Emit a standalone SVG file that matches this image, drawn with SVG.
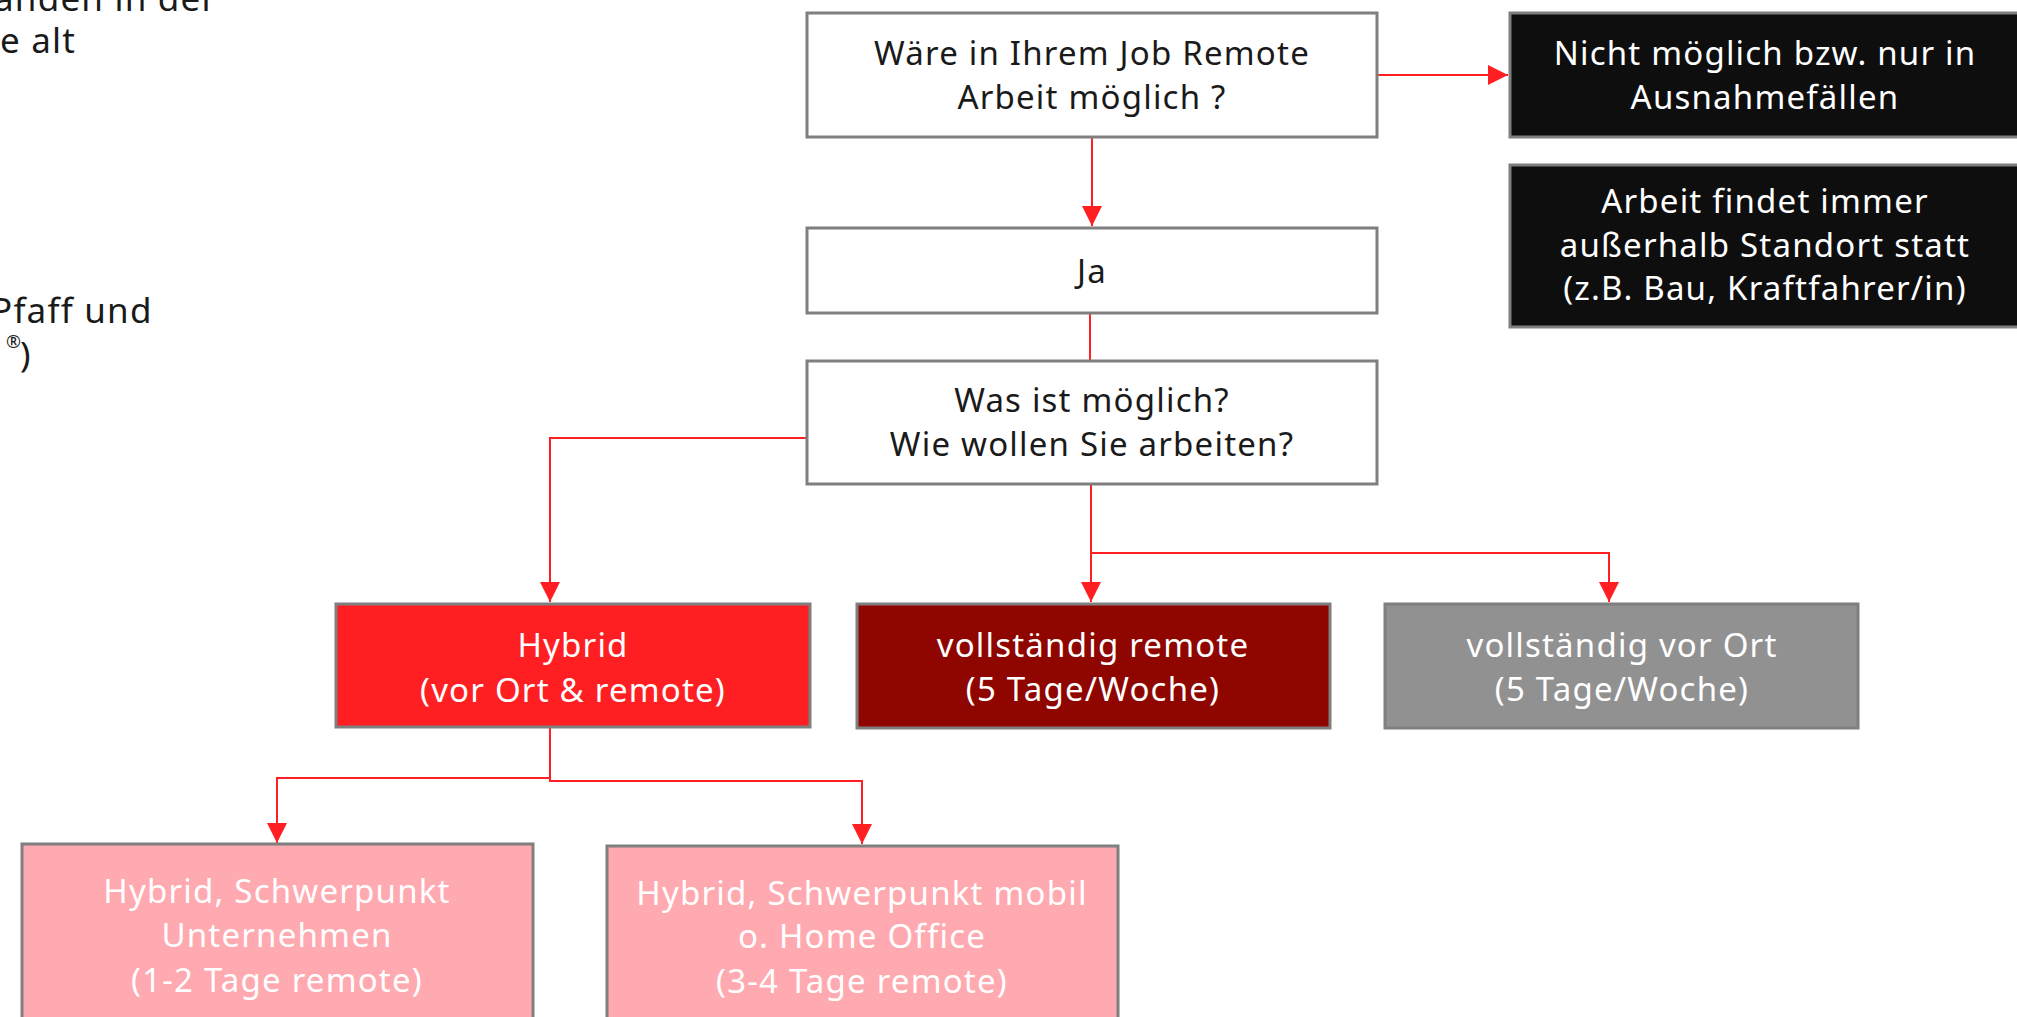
<svg xmlns="http://www.w3.org/2000/svg" width="2017" height="1017" viewBox="0 0 2017 1017">
<style>
text{font-family:"Noto Sans","Liberation Sans",sans-serif;font-size:33px;text-anchor:middle;letter-spacing:1.2px}
.dk{fill:#1a1a1a}
.wt{fill:#ffffff}
.box{stroke:#7f7f7f;stroke-width:3}
.con{fill:none;stroke:#ff1f23;stroke-width:2}
.side{text-anchor:start;fill:#1a1a1a;font-size:35px}
</style>
<defs>
<marker id="ah" viewBox="0 0 20 20" refX="20" refY="10" markerWidth="20" markerHeight="20" markerUnits="userSpaceOnUse" orient="auto">
<path d="M0,0 L20,10 L0,20 z" fill="#ff1f23"/>
</marker>
</defs>
<rect width="2017" height="1017" fill="#ffffff"/>
<g id="side-text">
<text class="side" x="-6" y="11">anden in der</text>
<text class="side" x="0" y="53">e alt</text>
<text class="side" x="-9" y="323">Pfaff und</text>
<text class="side" x="6" y="348" style="font-size:18px">®</text>
<text class="side" x="20" y="367">)</text>
</g>
<g id="connectors">
<path class="con" d="M1092,137 V226" marker-end="url(#ah)"/>
<path class="con" d="M1377,75 H1508" marker-end="url(#ah)"/>
<path class="con" d="M1090,313 V361"/>
<path class="con" d="M807,438 H550 V602" marker-end="url(#ah)"/>
<path class="con" d="M1091,484 V602" marker-end="url(#ah)"/>
<path class="con" d="M1091,553 H1609 V602" marker-end="url(#ah)"/>
<path class="con" d="M550,727 V778 H277 V843" marker-end="url(#ah)"/>
<path class="con" d="M550,778 V781 H862 V844" marker-end="url(#ah)"/>
</g>
<g id="q1">
<rect class="box" x="807" y="13" width="570" height="124" fill="#ffffff"/>
<text class="dk" x="1092" y="65">Wäre in Ihrem Job Remote</text>
<text class="dk" x="1092" y="109">Arbeit möglich ?</text>
</g>
<g id="nein">
<rect class="box" x="1510" y="13" width="512" height="124" fill="#0e0e0e"/>
<text class="wt" x="1765" y="65">Nicht möglich bzw. nur in</text>
<text class="wt" x="1765" y="109">Ausnahmefällen</text>
</g>
<g id="aussen">
<rect class="box" x="1510" y="165" width="512" height="162" fill="#0e0e0e"/>
<text class="wt" x="1765" y="213">Arbeit findet immer</text>
<text class="wt" x="1765" y="257">außerhalb Standort statt</text>
<text class="wt" x="1765" y="300">(z.B. Bau, Kraftfahrer/in)</text>
</g>
<g id="ja">
<rect class="box" x="807" y="228" width="570" height="85" fill="#ffffff"/>
<text class="dk" x="1092" y="283">Ja</text>
</g>
<g id="q2">
<rect class="box" x="807" y="361" width="570" height="123" fill="#ffffff"/>
<text class="dk" x="1092" y="412">Was ist möglich?</text>
<text class="dk" x="1092" y="456">Wie wollen Sie arbeiten?</text>
</g>
<g id="hybrid">
<rect class="box" x="336" y="604" width="474" height="123" fill="#ff1f23"/>
<text class="wt" x="573" y="657">Hybrid</text>
<text class="wt" x="573" y="702">(vor Ort &amp; remote)</text>
</g>
<g id="remote">
<rect class="box" x="857" y="604" width="473" height="124" fill="#8f0600"/>
<text class="wt" x="1093" y="657">vollständig remote</text>
<text class="wt" x="1093" y="701">(5 Tage/Woche)</text>
</g>
<g id="vorort">
<rect class="box" x="1385" y="604" width="473" height="124" fill="#919191"/>
<text class="wt" x="1622" y="657">vollständig vor Ort</text>
<text class="wt" x="1622" y="701">(5 Tage/Woche)</text>
</g>
<g id="hybrid-unternehmen">
<rect class="box" x="22" y="844" width="511" height="200" fill="#ffa9b0"/>
<text class="wt" x="277" y="903">Hybrid, Schwerpunkt</text>
<text class="wt" x="277" y="947">Unternehmen</text>
<text class="wt" x="277" y="992">(1-2 Tage remote)</text>
</g>
<g id="hybrid-mobil">
<rect class="box" x="607" y="846" width="511" height="200" fill="#ffa9b0"/>
<text class="wt" x="862" y="905">Hybrid, Schwerpunkt mobil</text>
<text class="wt" x="862" y="948">o. Home Office</text>
<text class="wt" x="862" y="993">(3-4 Tage remote)</text>
</g>
</svg>
